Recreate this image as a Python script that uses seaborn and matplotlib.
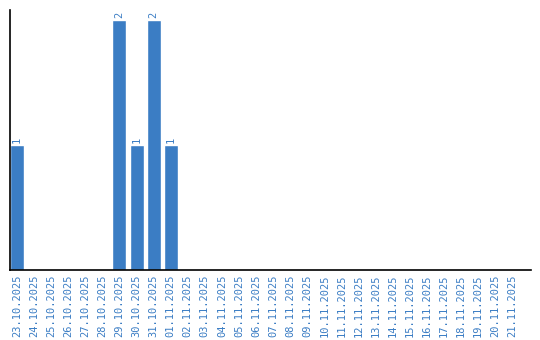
import matplotlib
matplotlib.use("Agg")
import matplotlib.pyplot as plt
import seaborn as sns
import pandas as pd

dates = ["23.10.2025", "24.10.2025", "25.10.2025", "26.10.2025", "27.10.2025",
         "28.10.2025", "29.10.2025", "30.10.2025", "31.10.2025", "01.11.2025",
         "02.11.2025", "03.11.2025", "04.11.2025", "05.11.2025", "06.11.2025",
         "07.11.2025", "08.11.2025", "09.11.2025", "10.11.2025", "11.11.2025",
         "12.11.2025", "13.11.2025", "14.11.2025", "15.11.2025", "16.11.2025",
         "17.11.2025", "18.11.2025", "19.11.2025", "20.11.2025", "21.11.2025"]
counts = [1, 0, 0, 0, 0, 0, 2, 1, 2, 1,
          0, 0, 0, 0, 0, 0, 0, 0, 0, 0,
          0, 0, 0, 0, 0, 0, 0, 0, 0, 0]

df = pd.DataFrame({"date": dates, "count": counts})

sns.set_style("white")
blue = "#3b7dc4"
fig = plt.figure(figsize=(5.4, 3.4), dpi=100)
ax = fig.add_axes([10/540, 70/340, 521/540, 260/340])
sns.barplot(data=df, x="date", y="count", color=blue, saturation=1, width=0.82, ax=ax)

ax.set_xlim(-0.41, 30.1)
ax.set_ylim(0, 2.08)
ax.set_xlabel("")
ax.set_ylabel("")
ax.set_yticks([])
ax.tick_params(axis="x", length=0, pad=3)
for lbl in ax.get_xticklabels():
    lbl.set_rotation(90)
    lbl.set_fontfamily("DejaVu Sans Mono")
    lbl.set_fontsize(7.5)
    lbl.set_color(blue)

for i, v in enumerate(counts):
    if v > 0:
        ax.text(i, v + 0.02, str(v), rotation=90, ha="center", va="bottom",
                color=blue, fontsize=7.5, family="DejaVu Sans Mono")

for s in ["top", "right"]:
    ax.spines[s].set_visible(False)
for s in ["left", "bottom"]:
    ax.spines[s].set_color("black")
    ax.spines[s].set_linewidth(1.2)

fig.savefig("out.png", dpi=100)
